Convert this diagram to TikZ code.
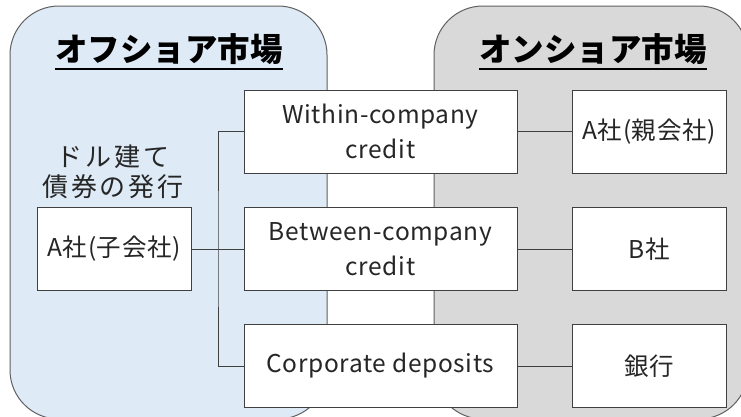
\documentclass[tikz,border=0pt]{standalone}
\usepackage{fontspec}
\setmainfont{Noto Sans CJK JP}
\definecolor{offfill}{HTML}{DEEBF7}
\definecolor{onfill}{HTML}{D9D9D9}
\definecolor{panelline}{HTML}{606060}
\definecolor{boxline}{HTML}{404040}
\definecolor{txt}{HTML}{262626}
\newcommand\headul[1]{\setbox0\hbox{#1}\rlap{\rule[-8pt]{\wd0}{2.2pt}}\box0}
\begin{document}
\begin{tikzpicture}[x=1pt,y=-1pt,
  panel/.style={draw=panelline, line width=1pt, rounded corners=49pt},
  heading/.style={font=\fontsize{32.5}{36}\selectfont\bfseries, text=black, inner sep=0pt},
  basebox/.style={draw=boxline, fill=white, line width=1pt, inner sep=0pt, align=center, text=txt,
    font=\fontsize{24.5}{35}\selectfont\addfontfeature{LetterSpace=2.5}, minimum height=83pt},
  midbox/.style={basebox, minimum width=273pt},
  sidebox/.style={basebox, minimum width=154pt},
  conn/.style={draw=boxline, line width=1pt},
  note/.style={font=\fontsize{26}{29.5}\selectfont\addfontfeature{LetterSpace=11}, text=txt, align=center, inner sep=0pt}
]
\useasboundingbox (0,0) rectangle (741,416);
\clip (0,0) rectangle (741,416);
\fill[white] (0,0) rectangle (741,416);
% panels
\path[panel, fill=offfill] (10,6) rectangle (327,419);
\path[panel, fill=onfill] (434,6) rectangle (748,419);
% headings
\node[heading] (hoff) at (169,52) {\headul{オフショア市場}};
\node[heading] (hon) at (593,52) {\headul{オンショア市場}};
% note
\node[note] (issue) at (113,172) {ドル建て\\債券の発行};
% boxes
\node[sidebox] (sub) at (114,249) {A社(子会社)};
\node[midbox] (m1) at (380.5,131.5) {Within-company\\credit};
\node[midbox] (m2) at (380.5,249) {Between-company\\credit};
\node[midbox] (m3) at (380.5,366) {Corporate deposits};
\node[sidebox] (r1) at (649,131.5) {A社(親会社)};
\node[sidebox] (r2) at (649,249) {B社};
\node[sidebox] (r3) at (649,366) {銀行};
% connectors
\coordinate (j) at (218,249);
\draw[conn] (sub.east) -- (m2.west);
\draw[conn] (m1.west) -| (j) |- (m3.west);
\draw[conn] (m1.east) -- (r1.west);
\draw[conn] (m2.east) -- (r2.west);
\draw[conn] (m3.east) -- (r3.west);
\end{tikzpicture}
\end{document}
